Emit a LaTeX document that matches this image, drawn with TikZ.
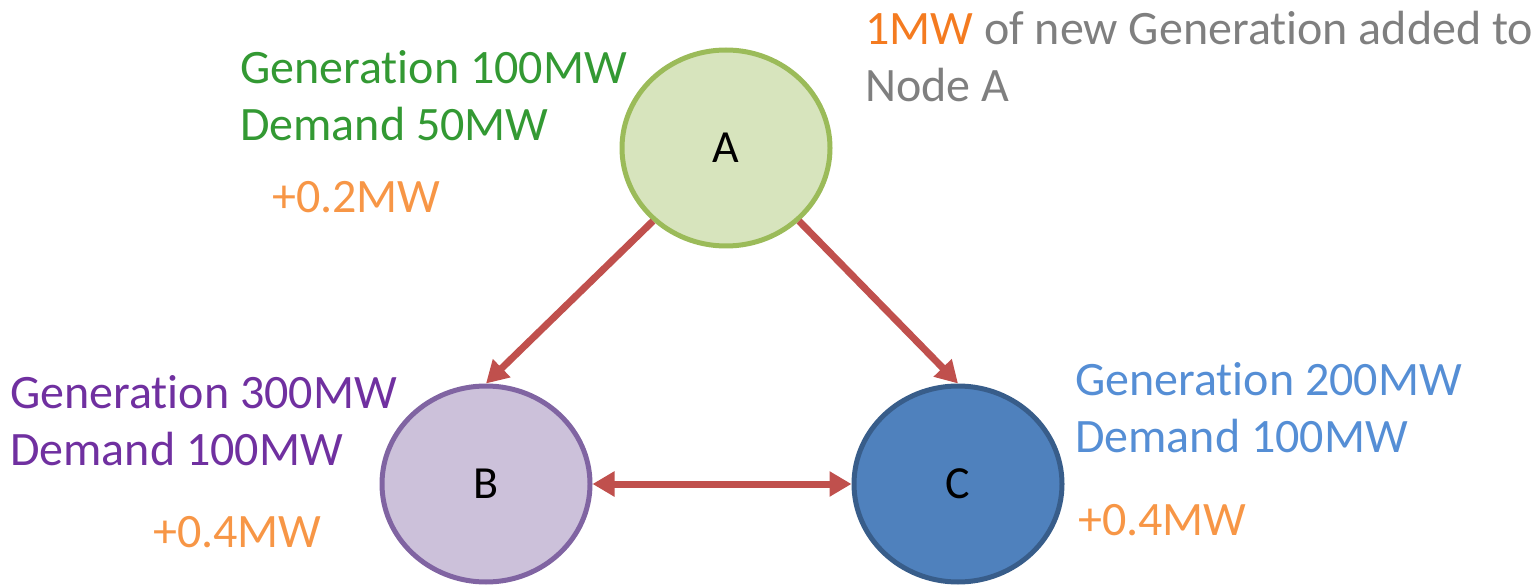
\documentclass[tikz,border=0pt]{standalone}
\usepackage{fontspec}
\setmainfont[RawFeature={-liga}]{Carlito}
\usetikzlibrary{shapes.geometric,arrows.meta}
\definecolor{gfill}{HTML}{D7E4BD}
\definecolor{gline}{HTML}{9BBB59}
\definecolor{pfill}{HTML}{CCC1DA}
\definecolor{pline}{HTML}{8064A2}
\definecolor{bfill}{HTML}{4F81BD}
\definecolor{bline}{HTML}{385D8A}
\definecolor{arr}{HTML}{C0504D}
\definecolor{gtext}{HTML}{339933}
\definecolor{ptext}{HTML}{7030A0}
\definecolor{btext}{HTML}{558ED5}
\definecolor{otext}{HTML}{F79646}
\definecolor{o2text}{HTML}{F47B20}
\definecolor{greytext}{HTML}{7F7F7F}
\tikzset{
  busnode/.style={ellipse, draw, line width=5pt, minimum width=208pt, minimum height=196pt, inner sep=0pt, font=\fontsize{46}{54}\selectfont},
  lbl/.style={anchor=base west, inner sep=0pt, font=\fontsize{48}{58}\selectfont},
  flow/.style={draw=arr, line width=7pt, -{Triangle[length=22pt,width=24pt]}},
  flow2/.style={draw=arr, line width=7pt, {Triangle[length=22pt,width=24pt]}-{Triangle[length=22pt,width=24pt]}}
}
\begin{document}
\begin{tikzpicture}[x=1pt,y=-1pt]
\useasboundingbox (0,0) rectangle (1539,585);
\node[busnode, fill=gfill, draw=gline] (A) at (726,148) {A};
\node[busnode, fill=pfill, draw=pline] (B) at (486,484) {B};
\node[busnode, fill=bfill, draw=bline] (C) at (958,484) {C};
\draw[flow] (A.225) -- (B.north);
\draw[flow] (A.-45) -- (C.north);
\draw[flow2] (B.east) -- (C.west);
\node[lbl, text=gtext] (ga) at (240,84) {Generation 100MW};
\node[lbl, text=gtext] (da) at (240,141) {Demand 50MW};
\node[lbl, text=otext] (pa) at (272,213) {+0.2MW};
\node[lbl, text=greytext] (t1) at (865,45) {\textcolor{o2text}{1MW} of new Generation added to};
\node[lbl, text=greytext] (t2) at (865,102) {Node A};
\node[lbl, text=ptext] (gb) at (10,408) {Generation 300MW};
\node[lbl, text=ptext] (db) at (10,465) {Demand 100MW};
\node[lbl, text=otext] (pb) at (153,547) {+0.4MW};
\node[lbl, text=btext] (gc) at (1075,395) {Generation 200MW};
\node[lbl, text=btext] (dc) at (1075,452) {Demand 100MW};
\node[lbl, text=otext] (pc) at (1078,535) {+0.4MW};
\end{tikzpicture}
\end{document}
